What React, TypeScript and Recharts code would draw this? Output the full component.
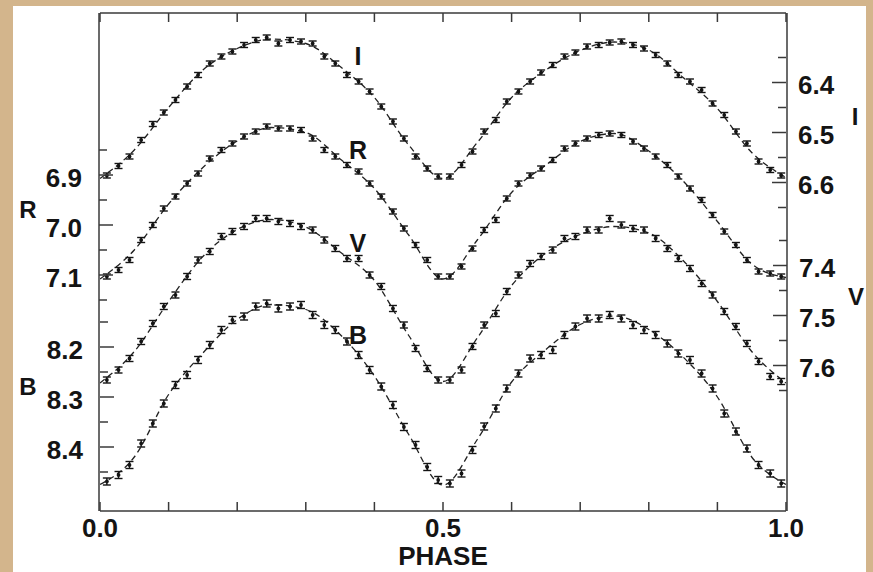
import React from 'react';
import { ComposedChart, Line, Scatter, XAxis, YAxis, ErrorBar, ReferenceDot } from 'recharts';

// Phase of each observation bin
const phase = [0.010, 0.027, 0.043, 0.060, 0.077, 0.093, 0.110, 0.127, 0.143, 0.160, 0.177, 0.193, 0.210, 0.227, 0.243, 0.260, 0.277, 0.293, 0.310, 0.327, 0.343, 0.360, 0.377, 0.393, 0.410, 0.427, 0.443, 0.460, 0.477, 0.493,
  0.510, 0.527, 0.543, 0.560, 0.577, 0.593, 0.610, 0.627, 0.643, 0.660, 0.677, 0.693, 0.710, 0.727, 0.743, 0.760, 0.777, 0.793, 0.810, 0.827, 0.843, 0.860, 0.877, 0.893, 0.910, 0.927, 0.943, 0.960, 0.977, 0.993];

const magI = [6.586, 6.567, 6.548, 6.515, 6.483, 6.460, 6.435, 6.408, 6.385, 6.362, 6.348, 6.338, 6.325, 6.315, 6.310, 6.322, 6.315, 6.318, 6.322, 6.348, 6.362, 6.385, 6.398, 6.418, 6.448, 6.478, 6.512, 6.548, 6.572, 6.588,
  6.588, 6.565, 6.538, 6.498, 6.475, 6.438, 6.418, 6.398, 6.380, 6.365, 6.348, 6.340, 6.328, 6.325, 6.320, 6.318, 6.325, 6.332, 6.345, 6.362, 6.385, 6.398, 6.415, 6.442, 6.465, 6.498, 6.522, 6.558, 6.575, 6.586];

const magR = [7.103, 7.090, 7.070, 7.030, 7.000, 6.967, 6.943, 6.917, 6.897, 6.867, 6.850, 6.837, 6.823, 6.813, 6.803, 6.807, 6.807, 6.810, 6.827, 6.850, 6.863, 6.880, 6.893, 6.917, 6.943, 6.973, 7.007, 7.040, 7.070, 7.103,
  7.103, 7.083, 7.047, 7.010, 6.990, 6.947, 6.917, 6.901, 6.887, 6.870, 6.847, 6.837, 6.827, 6.820, 6.817, 6.820, 6.833, 6.847, 6.863, 6.880, 6.903, 6.927, 6.950, 6.980, 7.013, 7.040, 7.070, 7.093, 7.097, 7.103];

const magV = [7.629, 7.609, 7.586, 7.552, 7.516, 7.482, 7.459, 7.422, 7.389, 7.372, 7.342, 7.332, 7.322, 7.306, 7.306, 7.312, 7.316, 7.322, 7.329, 7.349, 7.366, 7.386, 7.386, 7.419, 7.442, 7.486, 7.519, 7.566, 7.606, 7.629,
  7.629, 7.609, 7.562, 7.519, 7.496, 7.452, 7.419, 7.396, 7.382, 7.369, 7.346, 7.342, 7.329, 7.329, 7.306, 7.319, 7.326, 7.329, 7.346, 7.366, 7.386, 7.406, 7.436, 7.459, 7.492, 7.522, 7.556, 7.592, 7.622, 7.632];

const magB = [8.469, 8.456, 8.436, 8.393, 8.353, 8.313, 8.276, 8.256, 8.226, 8.196, 8.166, 8.146, 8.139, 8.119, 8.113, 8.123, 8.119, 8.116, 8.136, 8.156, 8.166, 8.189, 8.216, 8.246, 8.279, 8.316, 8.360, 8.396, 8.440, 8.466,
  8.473, 8.453, 8.406, 8.359, 8.323, 8.283, 8.253, 8.223, 8.216, 8.206, 8.176, 8.159, 8.143, 8.143, 8.136, 8.143, 8.156, 8.166, 8.176, 8.193, 8.213, 8.226, 8.253, 8.283, 8.333, 8.369, 8.403, 8.436, 8.453, 8.473];

// Fitted (dashed) curves
const fitPhase = [0, 0.05, 0.1, 0.15, 0.2, 0.25, 0.3, 0.35, 0.4, 0.45, 0.5, 0.55, 0.6, 0.65, 0.7, 0.75, 0.8, 0.85, 0.9, 0.95, 1.0];
const fitI = [6.592, 6.535, 6.450, 6.375, 6.332, 6.313, 6.322, 6.368, 6.430, 6.525, 6.592, 6.520, 6.430, 6.375, 6.336, 6.319, 6.335, 6.390, 6.452, 6.540, 6.590];
const fitR = [7.108, 7.050, 6.958, 6.885, 6.832, 6.805, 6.815, 6.868, 6.927, 7.020, 7.108, 7.030, 6.935, 6.880, 6.833, 6.817, 6.852, 6.912, 6.993, 7.078, 7.105];
const fitV = [7.635, 7.572, 7.472, 7.382, 7.328, 7.308, 7.323, 7.373, 7.430, 7.540, 7.632, 7.545, 7.440, 7.375, 7.338, 7.322, 7.335, 7.390, 7.472, 7.572, 7.635];
const fitB = [8.475, 8.420, 8.295, 8.212, 8.145, 8.115, 8.125, 8.175, 8.258, 8.375, 8.476, 8.385, 8.270, 8.205, 8.155, 8.138, 8.165, 8.220, 8.300, 8.420, 8.475];

const errI = 0.005;
const errR = 0.005;
const errV = 0.006;
const errB = 0.007;

// Axis ticks
const phaseTicks = [0, 0.1, 0.2, 0.3, 0.4, 0.5, 0.6, 0.7, 0.8, 0.9, 1.0];
const phaseLabels = [0, 0.5, 1.0];
const ticksR = [6.85, 6.9, 6.95, 7.0, 7.05, 7.1, 7.15];
const labelsR = [6.9, 7.0, 7.1];
const ticksB = [8.15, 8.2, 8.25, 8.3, 8.35, 8.4, 8.45];
const labelsB = [8.2, 8.3, 8.4];
const ticksI = [6.35, 6.4, 6.45, 6.5, 6.55, 6.6, 6.65];
const labelsI = [6.4, 6.5, 6.6];
const ticksV = [7.35, 7.4, 7.45, 7.5, 7.55, 7.6, 7.65];
const labelsV = [7.4, 7.5, 7.6];

const domR = [6.576, 7.572];
const domB = [7.532, 8.528];
const domI = [6.261, 7.257];
const domV = [6.895, 7.891];

const pts = (mags: number[], err: number) => phase.map((p, i) => ({ phase: p, mag: mags[i], err }));
const fit = (mags: number[]) => fitPhase.map((p, i) => ({ phase: p, mag: mags[i] }));

const FONT = '"Liberation Sans", Arial, Helvetica, sans-serif';
const AX = '#3a3a3a';
const INK = '#141414';

const isIn = (arr: number[], v: number) => arr.some((a) => Math.abs(a - v) < 1e-6);

const makeYTick = (labels: number[], side: 'left' | 'right') => (props: any) => {
  const { x, y, payload } = props;
  const v = payload.value as number;
  const major = isIn(labels, v);
  const len = major ? 14 : 8;
  const dir = side === 'left' ? 1 : -1;
  return (
    <g>
      <line x1={x} y1={y} x2={x + dir * len} y2={y} stroke={AX} strokeWidth={1.5} />
      {major && (
        <text
          x={side === 'left' ? x - 17 : x + 12}
          y={y + 11.5}
          textAnchor={side === 'left' ? 'end' : 'start'}
          fontFamily={FONT}
          fontWeight="bold"
          fontSize={26}
          fill={INK}
        >
          {v.toFixed(1)}
        </text>
      )}
    </g>
  );
};

const makeXTick = (side: 'bottom' | 'top') => (props: any) => {
  const { x, y, payload } = props;
  const v = payload.value as number;
  const dir = side === 'bottom' ? -1 : 1;
  return (
    <g>
      <line x1={x} y1={y} x2={x} y2={y + dir * 9} stroke={AX} strokeWidth={1.5} />
      {side === 'bottom' && isIn(phaseLabels, v) && (
        <text x={x} y={y + 26} textAnchor="middle" fontFamily={FONT} fontWeight="bold" fontSize={26} fill={INK}>
          {v.toFixed(1)}
        </text>
      )}
    </g>
  );
};

const Dot = (props: any) => <circle cx={props.cx} cy={props.cy} r={1.9} fill={INK} />;

const curveLabel = (value: string) => ({
  value,
  position: 'center' as const,
  fontFamily: FONT,
  fontWeight: 'bold',
  fontSize: 25,
  fill: INK,
});

const titleStyle: React.CSSProperties = {
  position: 'absolute',
  fontFamily: FONT,
  fontWeight: 'bold',
  fontSize: 24,
  color: INK,
  lineHeight: '24px',
  transform: 'translate(-50%, -50%)',
};

export default function App() {
  const bands = [
    { id: 'I', pts: pts(magI, errI), fit: fit(fitI) },
    { id: 'R', pts: pts(magR, errR), fit: fit(fitR) },
    { id: 'V', pts: pts(magV, errV), fit: fit(fitV) },
    { id: 'B', pts: pts(magB, errB), fit: fit(fitB) },
  ];
  return (
    <div style={{ position: 'absolute', left: 0, top: 0, width: 873, height: 572, background: '#D3B58C', overflow: 'hidden' }}>
      <div style={{ position: 'absolute', left: 13, top: 6, width: 853, height: 566, background: '#ffffff' }} />
      <div style={{ position: 'absolute', left: 0, top: 0 }}>
        <ComposedChart width={873} height={572} margin={{ top: 12, right: 26, bottom: 60, left: 39 }}>
          <XAxis
            xAxisId="bottom"
            dataKey="phase"
            type="number"
            domain={[0, 1]}
            allowDataOverflow
            ticks={phaseTicks}
            interval={0}
            height={1}
            tickSize={0}
            tickMargin={0}
            tick={makeXTick('bottom')}
            axisLine={{ stroke: AX, strokeWidth: 1.5 }}
          />
          <XAxis
            xAxisId="top"
            orientation="top"
            dataKey="phase"
            type="number"
            domain={[0, 1]}
            allowDataOverflow
            ticks={phaseTicks}
            interval={0}
            height={1}
            tickSize={0}
            tickMargin={0}
            tick={makeXTick('top')}
            axisLine={{ stroke: AX, strokeWidth: 1.5 }}
          />
          <YAxis
            yAxisId="B"
            orientation="left"
            dataKey="mag"
            type="number"
            domain={domB}
            allowDataOverflow
            reversed
            ticks={ticksB}
            interval={0}
            width={1}
            tickSize={0}
            tickMargin={0}
            tick={makeYTick(labelsB, 'left')}
            axisLine={false}
          />
          <YAxis
            yAxisId="R"
            orientation="left"
            dataKey="mag"
            type="number"
            domain={domR}
            allowDataOverflow
            reversed
            ticks={ticksR}
            interval={0}
            width={60}
            tickSize={0}
            tickMargin={0}
            tick={makeYTick(labelsR, 'left')}
            axisLine={{ stroke: AX, strokeWidth: 1.5 }}
          />
          <YAxis
            yAxisId="I"
            orientation="right"
            dataKey="mag"
            type="number"
            domain={domI}
            allowDataOverflow
            reversed
            ticks={ticksI}
            interval={0}
            width={1}
            tickSize={0}
            tickMargin={0}
            tick={makeYTick(labelsI, 'right')}
            axisLine={false}
          />
          <YAxis
            yAxisId="V"
            orientation="right"
            dataKey="mag"
            type="number"
            domain={domV}
            allowDataOverflow
            reversed
            ticks={ticksV}
            interval={0}
            width={60}
            tickSize={0}
            tickMargin={0}
            tick={makeYTick(labelsV, 'right')}
            axisLine={{ stroke: AX, strokeWidth: 1.5 }}
          />
          {bands.map((b) => (
            <Line
              key={'fit' + b.id}
              data={b.fit}
              xAxisId="bottom"
              yAxisId={b.id}
              dataKey="mag"
              type="monotone"
              stroke="#222"
              strokeWidth={1.3}
              strokeDasharray="6 4"
              dot={false}
              activeDot={false}
              isAnimationActive={false}
            />
          ))}
          {bands.map((b) => (
            <Scatter
              key={'pts' + b.id}
              data={b.pts}
              xAxisId="bottom"
              yAxisId={b.id}
              dataKey="mag"
              shape={Dot}
              isAnimationActive={false}
            >
              <ErrorBar dataKey="err" direction="y" width={4} stroke={INK} strokeWidth={1.4} isAnimationActive={false} />
            </Scatter>
          ))}
          <ReferenceDot xAxisId="bottom" yAxisId="I" x={0.376} y={6.347} r={0} label={curveLabel('I')} />
          <ReferenceDot xAxisId="bottom" yAxisId="R" x={0.376} y={6.85} r={0} label={curveLabel('R')} />
          <ReferenceDot xAxisId="bottom" yAxisId="V" x={0.376} y={7.355} r={0} label={curveLabel('V')} />
          <ReferenceDot xAxisId="bottom" yAxisId="B" x={0.376} y={8.176} r={0} label={curveLabel('B')} />
        </ComposedChart>
      </div>
      <div style={{ ...titleStyle, left: 28, top: 210 }}>R</div>
      <div style={{ ...titleStyle, left: 28, top: 387 }}>B</div>
      <div style={{ ...titleStyle, left: 855, top: 117 }}>I</div>
      <div style={{ ...titleStyle, left: 856, top: 297 }}>V</div>
      <div style={{ ...titleStyle, left: 443, top: 556, fontSize: 26, lineHeight: '26px' }}>PHASE</div>
    </div>
  );
}
